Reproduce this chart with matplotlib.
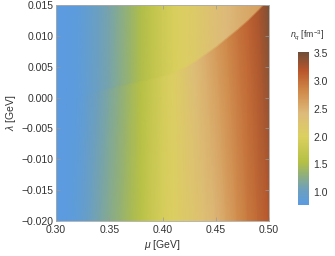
import numpy as np
import matplotlib
matplotlib.use("Agg")
import matplotlib.pyplot as plt
from matplotlib.colors import LinearSegmentedColormap

plt.rcParams['font.family'] = ['Liberation Sans', 'DejaVu Sans']
plt.rcParams['mathtext.fontset'] = 'custom'
plt.rcParams['mathtext.it'] = 'Liberation Sans:italic'
plt.rcParams['mathtext.rm'] = 'Liberation Sans'

# chemical potential grid [GeV]
mu = [0.30, 0.31, 0.32, 0.33, 0.34, 0.35, 0.36, 0.37, 0.38, 0.39, 0.40,
      0.41, 0.42, 0.43, 0.44, 0.45, 0.46, 0.47, 0.48, 0.49, 0.50]
# low-density phase (above the transition line)
n_low = [0.80, 0.80, 0.82, 0.92, 1.02, 1.12, 1.25, 1.38, 1.52, 1.68, 1.83,
         1.95, 2.04, 2.13, 2.23, 2.33, 2.42, 2.50, 2.56, 2.62, 2.68]
# high-density phase just below the transition line
n_high_line = [0.80, 0.80, 0.82, 0.93, 1.05, 1.16, 1.29, 1.43, 1.58, 1.74, 1.90,
               2.05, 2.20, 2.36, 2.52, 2.67, 2.82, 2.97, 3.08, 3.25, 3.45]
# high-density phase at lambda = -0.020 GeV
n_high_bottom = [0.80, 0.80, 0.86, 0.98, 1.12, 1.24, 1.35, 1.46, 1.60, 1.78, 1.92,
                 2.03, 2.12, 2.22, 2.32, 2.45, 2.60, 2.76, 2.92, 3.05, 3.18]
# transition line lambda_c(mu) [GeV]
lam_c = [0.0000, 0.0000, 0.0002, 0.0008, 0.0012, 0.0015, 0.0020, 0.0023, 0.0027, 0.0031, 0.0035,
         0.0040, 0.0048, 0.0058, 0.0070, 0.0082, 0.0096, 0.0110, 0.0125, 0.0142, 0.0160]

MU = np.array(mu)
LC = np.array(lam_c)
X = np.vstack([MU, MU, MU, MU])
Y = np.vstack([np.full_like(MU, -0.021), LC - 0.0002, LC + 0.0002, np.full_like(MU, 0.018)])
Z = np.vstack([n_high_bottom, n_high_line, n_low, n_low])

cmap = LinearSegmentedColormap.from_list("nq", [
    (0.00, "#5A9BE2"),
    (0.10, "#6EA0BC"),
    (0.20, "#92B078"),
    (0.28, "#B4C044"),
    (0.45, "#DCD060"),
    (0.60, "#DDBA7A"),
    (0.75, "#CF8848"),
    (0.88, "#B9562B"),
    (1.00, "#6E4E38"),
])
vmin, vmax = 0.77, 3.52

fig = plt.figure(figsize=(3.35, 2.56), dpi=100)
ax = fig.add_axes([56/335, 35/256, 213/335, 216/256])
pm = ax.pcolormesh(X, Y, Z, cmap=cmap, vmin=vmin, vmax=vmax,
                   shading='gouraud', rasterized=True)
ax.set_xlim(0.30, 0.50)
ax.set_ylim(-0.020, 0.015)

xt = [0.30, 0.35, 0.40, 0.45, 0.50]
yt = [-0.020, -0.015, -0.010, -0.005, 0.000, 0.005, 0.010, 0.015]
ax.set_xticks(xt)
ax.set_xticklabels([f"{v:.2f}" for v in xt])
ax.set_yticks(yt)
ax.set_yticklabels([f"{v:.3f}".replace("-", "\u2212") for v in yt])
ax.tick_params(direction='in', top=True, right=True, length=3, width=0.5,
               labelsize=7.5, colors='#999999', labelcolor='#333333', pad=2)
ax.tick_params(axis='x', pad=3)
for s in ax.spines.values():
    s.set_color('#aaaaaa')
    s.set_linewidth(0.6)
ax.set_xlabel(r"$\mu$ [GeV]", fontsize=7.5, color='#333333', labelpad=2)
ax.set_ylabel(r"$\lambda$ [GeV]", fontsize=7.5, color='#333333', labelpad=2)

cax = fig.add_axes([298/335, 51/256, 11/335, 153/256])
cb = fig.colorbar(pm, cax=cax)
cb.set_ticks([1.0, 1.5, 2.0, 2.5, 3.0, 3.5])
cb.set_ticklabels(["1.0", "1.5", "2.0", "2.5", "3.0", "3.5"])
cb.outline.set_visible(False)
cax.tick_params(length=0, labelsize=7.5, labelcolor='#333333', pad=3)
fig.text(290/335, 1 - 35/256, r"$n_q$ [fm$^{-3}$]", fontsize=6.3, color='#333333',
         ha='left', va='center')

fig.savefig("out.png", dpi=100)
